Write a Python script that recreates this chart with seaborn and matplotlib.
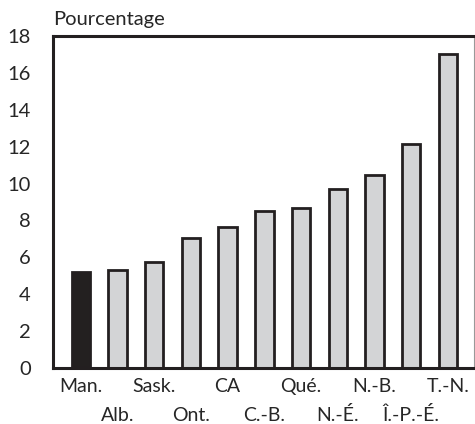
import numpy as np
import pandas as pd
import matplotlib
matplotlib.use("Agg")
import matplotlib.pyplot as plt
import seaborn as sns

provinces = ["Man.", "Alb.", "Sask.", "Ont.", "CA", "C.-B.", "Qué.",
             "N.-É.", "N.-B.", "Î.-P.-É.", "T.-N."]
pourcentage = [5.2, 5.3, 5.75, 7.05, 7.65, 8.5, 8.65, 9.7, 10.45, 12.15, 17.0]
yticks = [0, 2, 4, 6, 8, 10, 12, 14, 16, 18]

GRIS = "#d3d4d6"
NOIR = "#231f20"

sns.set_style("white")
plt.rcParams["font.family"] = ["Lato", "DejaVu Sans"]

df = pd.DataFrame({"province": provinces, "valeur": pourcentage})
couleurs = [NOIR] + [GRIS] * (len(provinces) - 1)

fig = plt.figure(figsize=(4.75, 4.24), dpi=100)
ax = fig.add_axes([53 / 475, 56 / 424, 421 / 475, 332 / 424])

sns.barplot(data=df, x="province", y="valeur", hue="province",
            palette=couleurs, legend=False, width=0.5,
            edgecolor=NOIR, linewidth=2, ax=ax)

ax.set_xlim(-0.755, len(provinces) - 0.29)
ax.set_ylim(0, 18)
ax.set_yticks(yticks)
ax.set_yticklabels([str(t) for t in yticks], fontsize=14.5)

# labels sur deux rangées (pad différent pour les rangs impairs)
ax.set_xticks(range(len(provinces)))
ax.set_xticklabels(provinces, fontsize=14, va="baseline")
ax.tick_params(axis="x", length=0)
for i, tick in enumerate(ax.xaxis.get_major_ticks()):
    tick.set_pad(17 if i % 2 == 0 else 38.5)
ax.tick_params(axis="y", direction="out", length=11, width=2, color=NOIR, pad=5)

ax.set_xlabel("")
ax.set_ylabel("")

for side in ["left", "bottom", "top"]:
    ax.spines[side].set_visible(True)
    ax.spines[side].set_linewidth(2.2)
    ax.spines[side].set_color(NOIR)
ax.spines["right"].set_visible(True)
ax.spines["right"].set_linewidth(0.8)
ax.spines["right"].set_color("#999999")

ax.annotate("Pourcentage", xy=(0, 1), xycoords="axes fraction",
            xytext=(0, 8), textcoords="offset points",
            fontsize=14.5, ha="left", va="baseline")

fig.savefig("out.png", dpi=100)
